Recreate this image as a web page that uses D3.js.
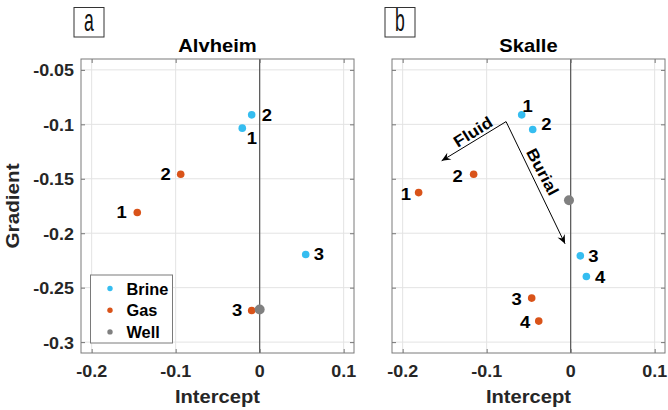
<!DOCTYPE html>
<html>
<head>
<meta charset="utf-8">
<script src="https://cdn.jsdelivr.net/npm/d3@7"></script>
<style>
  body { margin: 0; background: #fff; }
  svg { display: block; font-family: "Liberation Sans", Arial, sans-serif; }
</style>
</head>
<body>
<svg id="chart" width="668" height="410"></svg>
<script>
// ticks
const xTicks = [-0.2, -0.1, 0, 0.1];
const xTickLabels = ["-0.2", "-0.1", "0", "0.1"];
const yTicks = [-0.05, -0.1, -0.15, -0.2, -0.25, -0.3];
const yTickLabels = ["-0.05", "-0.1", "-0.15", "-0.2", "-0.25", "-0.3"];

// Alvheim (panel a)
const alvBrineX = [-0.0207, -0.0095, 0.0548];
const alvBrineY = [-0.1035, -0.0913, -0.2196];
const alvGasX = [-0.1457, -0.094, -0.0095];
const alvGasY = [-0.181, -0.1458, -0.271];
const alvWell = [0, -0.27];

// Skalle (panel b)
const skaBrineX = [-0.0583, -0.0452, 0.0115, 0.0187];
const skaBrineY = [-0.0913, -0.1048, -0.2208, -0.2398];
const skaGasX = [-0.181, -0.1155, -0.0464, -0.038];
const skaGasY = [-0.1627, -0.1458, -0.2596, -0.2807];
const skaWell = [-0.002, -0.1697];

// trend arrows in panel b
const arrowStart = [-0.0769, -0.0975];
const fluidEnd = [-0.1536, -0.1335];
const burialEnd = [-0.0067, -0.2097];

const legendNames = ["Brine", "Gas", "Well"];

// label placement next to each point: [dx, dy, anchor]
const alvBrineLab = [[9.5, 10, "middle"], [10, 0, "start"], [8, 0, "start"]];
const alvGasLab = [[-10.5, 0, "end"], [-10, 0, "end"], [-9.5, 0, "end"]];
const skaBrineLab = [[6, -9, "middle"], [8.5, -5.5, "start"], [8, 0, "start"], [8.5, 0.5, "start"]];
const skaGasLab = [[-7.5, 1.5, "end"], [-11, 1.5, "end"], [-10, 1, "end"], [-8.5, 1, "end"]];

const colors = { Brine: "#35bdf0", Gas: "#d95319", Well: "#808080" };
const K = 1.12; // horizontal stretch of the original font

const svg = d3.select("#chart");
const top0 = 59, H = 294, W = 273;

svg.append("defs").append("marker")
    .attr("id", "head")
    .attr("markerUnits", "userSpaceOnUse")
    .attr("viewBox", "-10 -5 11 10")
    .attr("refX", 0).attr("refY", 0)
    .attr("markerWidth", 11).attr("markerHeight", 10)
    .attr("orient", "auto")
    .append("path")
    .attr("d", "M0,0 L-9,-4 L-6,0 L-9,4 Z")
    .attr("fill", "#000");

function txt(g, x, y, s, o) {
    o = o || {};
    g.append("text")
        .attr("transform", "translate(" + x + "," + y + ")" + (o.rot ? " rotate(" + o.rot + ")" : "") + " scale(" + (o.k || K) + ",1)")
        .attr("text-anchor", o.anchor || "middle")
        .style("font-size", (o.size || 16) + "px")
        .style("font-weight", o.weight || "bold")
        .attr("fill", o.fill || "#000")
        .text(s);
}

function drawPanel(left, title, letter, d) {
    let g = svg.append("g").attr("transform", "translate(" + left + "," + top0 + ")");

    let x = d3.scaleLinear().domain([-0.2127, 0.1123]).range([0, W]);
    let y = d3.scaleLinear().domain([-0.31, -0.04]).range([H, 0]);

    // grid
    g.selectAll(".gx").data(xTicks).enter().append("line")
        .attr("x1", v => x(v)).attr("x2", v => x(v))
        .attr("y1", 0).attr("y2", H)
        .attr("stroke", "#e3e3e3");
    g.selectAll(".gy").data(yTicks).enter().append("line")
        .attr("x1", 0).attr("x2", W)
        .attr("y1", v => y(v)).attr("y2", v => y(v))
        .attr("stroke", "#e3e3e3");

    // zero line
    g.append("line")
        .attr("x1", x(0)).attr("x2", x(0))
        .attr("y1", 0).attr("y2", H)
        .attr("stroke", "#555").attr("stroke-width", 1.2);

    // inside ticks on all four sides
    let sides = [
        [d3.axisBottom(x).tickValues(xTicks), "translate(0," + H + ")"],
        [d3.axisTop(x).tickValues(xTicks), "translate(0,0)"],
        [d3.axisLeft(y).tickValues(yTicks), "translate(0,0)"],
        [d3.axisRight(y).tickValues(yTicks), "translate(" + W + ",0)"]
    ];
    sides.forEach(function (s) {
        let a = g.append("g").attr("transform", s[1])
            .call(s[0].tickSize(-4).tickFormat(""));
        a.select(".domain").remove();
        a.selectAll("line").attr("stroke", "#777");
    });

    // box
    g.append("rect")
        .attr("width", W).attr("height", H)
        .attr("fill", "none").attr("stroke", "#7a7a7a");

    // tick labels
    xTicks.forEach(function (v, i) {
        txt(g, x(v), H + 24, xTickLabels[i], { size: 16, fill: "#262626" });
    });
    if (d.yLabels) {
        yTicks.forEach(function (v, i) {
            txt(g, -7, y(v) + 6.5, yTickLabels[i], { size: 16, anchor: "end", fill: "#262626" });
        });
        txt(g, -62.5, H / 2, "Gradient", { size: 18, rot: -90, k: 1.15, fill: "#262626" });
    }

    // titles
    txt(g, W / 2, -7, title, { size: 18 });
    txt(g, W / 2, H + 50, "Intercept", { size: 18, fill: "#262626" });

    // panel letter
    let lx = left - 7;
    svg.append("rect")
        .attr("x", lx).attr("y", 7.5).attr("width", 30).attr("height", 29.5)
        .attr("fill", "#fff").attr("stroke", "#333");
    txt(svg, lx + 15, 30.5, letter, { size: 32, k: 0.55, weight: "normal", fill: "#111" });

    // arrows
    if (d.arrows) {
        [fluidEnd, burialEnd].forEach(function (e) {
            g.append("line")
                .attr("x1", x(arrowStart[0])).attr("y1", y(arrowStart[1]))
                .attr("x2", x(e[0])).attr("y2", y(e[1]))
                .attr("stroke", "#000").attr("stroke-width", 1)
                .attr("marker-end", "url(#head)");
        });
        txt(g, x(-0.1175) + 4, y(-0.1085) + 3, "Fluid", { size: 16, rot: -32 });
        txt(g, x(-0.0345) - 4, y(-0.1415) + 5, "Burial", { size: 16, rot: 62 });
    }

    // points
    function pts(xs, ys, labs, c) {
        xs.forEach(function (v, i) {
            g.append("circle")
                .attr("cx", x(v)).attr("cy", y(ys[i])).attr("r", 3.8)
                .attr("fill", colors[c]);
            let l = labs[i];
            txt(g, x(v) + l[0], y(ys[i]) + l[1] + 5.8, String(i + 1), { size: 16.5, anchor: l[2] });
        });
    }
    pts(d.brineX, d.brineY, d.brineLab, "Brine");
    pts(d.gasX, d.gasY, d.gasLab, "Gas");
    g.append("circle")
        .attr("cx", x(d.well[0])).attr("cy", y(d.well[1])).attr("r", 5)
        .attr("fill", colors.Well);

    // legend
    if (d.legend) {
        let lg = g.append("g").attr("transform", "translate(" + (90.5 - left) + "," + (275 - top0) + ")");
        lg.append("rect")
            .attr("width", 82).attr("height", 68)
            .attr("fill", "#fff").attr("stroke", "#7a7a7a");
        legendNames.forEach(function (n, i) {
            lg.append("circle")
                .attr("cx", 19.5).attr("cy", 13.5 + i * 21.7).attr("r", 2.7)
                .attr("fill", colors[n]);
            txt(lg, 36, 13.5 + i * 21.7 + 6, n, { size: 16, anchor: "start", k: 1.02 });
        });
    }
}

drawPanel(81, "Alvheim", "a", {
    brineX: alvBrineX, brineY: alvBrineY, brineLab: alvBrineLab,
    gasX: alvGasX, gasY: alvGasY, gasLab: alvGasLab,
    well: alvWell, yLabels: true, legend: true
});
drawPanel(392, "Skalle", "b", {
    brineX: skaBrineX, brineY: skaBrineY, brineLab: skaBrineLab,
    gasX: skaGasX, gasY: skaGasY, gasLab: skaGasLab,
    well: skaWell, arrows: true
});
</script>
</body>
</html>
